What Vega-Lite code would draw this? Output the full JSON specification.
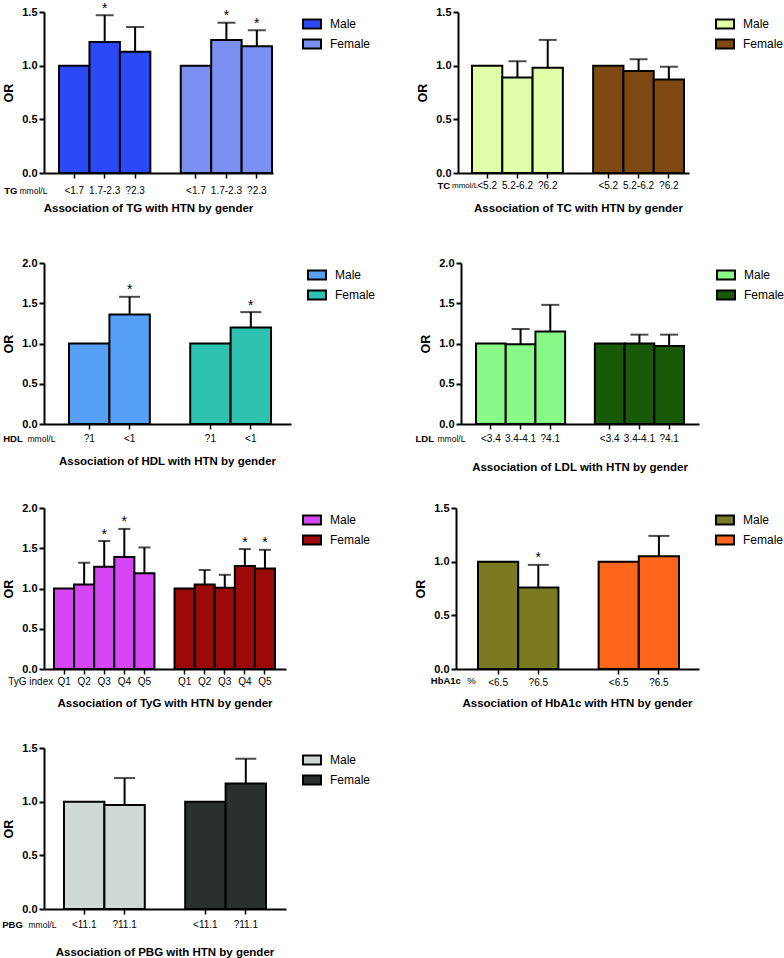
{
"$schema": "https://vega.github.io/schema/vega-lite/v6.json",
"padding": {"left": 1, "top": 1, "right": 0, "bottom": 0},
"datasets": {
 "tg": [
  {"sex":"Male","level":"<1.7","OR":1.0,"upper":null,"sig":""},
  {"sex":"Male","level":"1.7-2.3","OR":1.22,"upper":1.47,"sig":"*"},
  {"sex":"Male","level":"?2.3","OR":1.13,"upper":1.36,"sig":""},
  {"sex":"Female","level":"<1.7","OR":1.0,"upper":null,"sig":""},
  {"sex":"Female","level":"1.7-2.3","OR":1.24,"upper":1.40,"sig":"*"},
  {"sex":"Female","level":"?2.3","OR":1.18,"upper":1.33,"sig":"*"}
 ],
 "tc": [
  {"sex":"Male","level":"<5.2","OR":1.0,"upper":null,"sig":""},
  {"sex":"Male","level":"5.2-6.2","OR":0.89,"upper":1.04,"sig":""},
  {"sex":"Male","level":"?6.2","OR":0.98,"upper":1.24,"sig":""},
  {"sex":"Female","level":"<5.2","OR":1.0,"upper":null,"sig":""},
  {"sex":"Female","level":"5.2-6.2","OR":0.95,"upper":1.06,"sig":""},
  {"sex":"Female","level":"?6.2","OR":0.87,"upper":0.99,"sig":""}
 ],
 "hdl": [
  {"sex":"Male","level":"?1","OR":1.0,"upper":null,"sig":""},
  {"sex":"Male","level":"<1","OR":1.36,"upper":1.58,"sig":"*"},
  {"sex":"Female","level":"?1","OR":1.0,"upper":null,"sig":""},
  {"sex":"Female","level":"<1","OR":1.20,"upper":1.39,"sig":"*"}
 ],
 "ldl": [
  {"sex":"Male","level":"<3.4","OR":1.0,"upper":null,"sig":""},
  {"sex":"Male","level":"3.4-4.1","OR":0.99,"upper":1.18,"sig":""},
  {"sex":"Male","level":"?4.1","OR":1.15,"upper":1.48,"sig":""},
  {"sex":"Female","level":"<3.4","OR":1.0,"upper":null,"sig":""},
  {"sex":"Female","level":"3.4-4.1","OR":1.00,"upper":1.11,"sig":""},
  {"sex":"Female","level":"?4.1","OR":0.97,"upper":1.11,"sig":""}
 ],
 "tyg": [
  {"sex":"Male","level":"Q1","OR":1.0,"upper":null,"sig":""},
  {"sex":"Male","level":"Q2","OR":1.05,"upper":1.32,"sig":""},
  {"sex":"Male","level":"Q3","OR":1.27,"upper":1.59,"sig":"*"},
  {"sex":"Male","level":"Q4","OR":1.39,"upper":1.74,"sig":"*"},
  {"sex":"Male","level":"Q5","OR":1.19,"upper":1.51,"sig":""},
  {"sex":"Female","level":"Q1","OR":1.0,"upper":null,"sig":""},
  {"sex":"Female","level":"Q2","OR":1.05,"upper":1.23,"sig":""},
  {"sex":"Female","level":"Q3","OR":1.01,"upper":1.17,"sig":""},
  {"sex":"Female","level":"Q4","OR":1.28,"upper":1.49,"sig":"*"},
  {"sex":"Female","level":"Q5","OR":1.25,"upper":1.48,"sig":"*"}
 ],
 "hba1c": [
  {"sex":"Male","level":"<6.5","OR":1.0,"upper":null,"sig":""},
  {"sex":"Male","level":"?6.5","OR":0.76,"upper":0.97,"sig":"*"},
  {"sex":"Female","level":"<6.5","OR":1.0,"upper":null,"sig":""},
  {"sex":"Female","level":"?6.5","OR":1.05,"upper":1.24,"sig":""}
 ],
 "pbg": [
  {"sex":"Male","level":"<11.1","OR":1.0,"upper":null,"sig":""},
  {"sex":"Male","level":"?11.1","OR":0.97,"upper":1.22,"sig":""},
  {"sex":"Female","level":"<11.1","OR":1.0,"upper":null,"sig":""},
  {"sex":"Female","level":"?11.1","OR":1.17,"upper":1.40,"sig":""}
 ]
},
"vconcat": [
 {
  "hconcat": [
   {
    "width": 229, "height": 161,
    "data": {"name": "tg"},
    "transform": [{"calculate": "datum.sex + '|' + datum.level", "as": "key"}],
    "title": {"text": "Association of TG with HTN by gender", "offset": 8, "dx": -10},
    "encoding": {
     "x": {"field": "key", "type": "nominal",
      "scale": {"domain": ["Male|<1.7","Male|1.7-2.3","Male|?2.3","gap","Female|<1.7","Female|1.7-2.3","Female|?2.3"], "paddingInner": 0, "paddingOuter": 0.263, "align": 0.94},
      "axis": {"values": ["Male|<1.7","Male|1.7-2.3","Male|?2.3","Female|<1.7","Female|1.7-2.3","Female|?2.3"], "labelExpr": "split(datum.value, '|')[1]", "labelPadding": 7, "title": "TG", "titleX": -40.3, "titleY": 17}}
    },
    "layer": [
     {"transform": [{"filter": "datum.upper != null"}], "mark": {"type": "rule", "strokeWidth": 2, "color": "black"},
      "encoding": {"y": {"field": "OR", "type": "quantitative", "scale": {"domain": [0, 1.5], "nice": false}, "axis": null}, "y2": {"field": "upper"}}},
     {"transform": [{"filter": "datum.upper != null"}], "mark": {"type": "tick", "size": 18, "thickness": 2, "color": "black"},
      "encoding": {"y": {"field": "upper", "type": "quantitative", "scale": {"domain": [0, 1.5], "nice": false},
       "axis": {"orient": "right", "domain": false, "ticks": false, "labels": false, "grid": false, "title": "mmol/L", "titleAngle": 0, "titleX": -254, "titleY": 178, "titleAlign": "left", "titleBaseline": "middle", "titleFontWeight": "normal", "titleFontSize": 8.5, "titlePadding": 0}}}},
     {"mark": {"type": "bar", "stroke": "black", "strokeWidth": 2},
      "encoding": {"y": {"field": "OR", "type": "quantitative", "scale": {"domain": [0, 1.5], "nice": false}, "axis": {"title": "OR", "values": [0, 0.5, 1, 1.5], "format": ".1f"}},
       "color": {"field": "sex", "type": "nominal", "scale": {"domain": ["Male", "Female"], "range": ["#2B49F6", "#7A90F2"]}, "legend": {"title": null, "orient": "none", "legendX": 258, "legendY": 2}}}},
     {"transform": [{"filter": "datum.sig == '*'"}], "mark": {"type": "text", "fontSize": 14, "baseline": "alphabetic", "dy": -2.5, "color": "black"},
      "encoding": {"y": {"field": "upper", "type": "quantitative", "scale": {"domain": [0, 1.5], "nice": false}, "axis": null}, "text": {"field": "sig"}}}
    ],
    "resolve": {"axis": {"y": "independent"}}
   },
   {
    "width": 231, "height": 161,
    "data": {"name": "tc"},
    "transform": [{"calculate": "datum.sex + '|' + datum.level", "as": "key"}],
    "title": {"text": "Association of TC with HTN by gender", "offset": 13, "dx": 5},
    "encoding": {
     "x": {"field": "key", "type": "nominal",
      "scale": {"domain": ["Male|<5.2","Male|5.2-6.2","Male|?6.2","gap","Female|<5.2","Female|5.2-6.2","Female|?6.2"], "paddingInner": 0, "paddingOuter": 0.314, "align": 0.737},
      "axis": {"values": ["Male|<5.2","Male|5.2-6.2","Male|?6.2","Female|<5.2","Female|5.2-6.2","Female|?6.2"], "labelExpr": "split(datum.value, '|')[1]", "labelPadding": 2, "title": "TC", "titleX": -21, "titleY": 12}}
    },
    "layer": [
     {"transform": [{"filter": "datum.upper != null"}], "mark": {"type": "rule", "strokeWidth": 2, "color": "black"},
      "encoding": {"y": {"field": "OR", "type": "quantitative", "scale": {"domain": [0, 1.5], "nice": false}, "axis": null}, "y2": {"field": "upper"}}},
     {"transform": [{"filter": "datum.upper != null"}], "mark": {"type": "tick", "size": 18, "thickness": 2, "color": "black"},
      "encoding": {"y": {"field": "upper", "type": "quantitative", "scale": {"domain": [0, 1.5], "nice": false},
       "axis": {"orient": "right", "domain": false, "ticks": false, "labels": false, "grid": false, "title": "mmol/L", "titleAngle": 0, "titleX": -237.5, "titleY": 173, "titleAlign": "left", "titleBaseline": "middle", "titleFontWeight": "normal", "titleFontSize": 8, "titlePadding": 0}}}},
     {"mark": {"type": "bar", "stroke": "black", "strokeWidth": 2},
      "encoding": {"y": {"field": "OR", "type": "quantitative", "scale": {"domain": [0, 1.5], "nice": false}, "axis": {"title": "OR", "values": [0, 0.5, 1, 1.5], "format": ".1f"}},
       "color": {"field": "sex", "type": "nominal", "scale": {"domain": ["Male", "Female"], "range": ["#E0FDA8", "#7E4A12"]}, "legend": {"title": null, "orient": "none", "legendX": 257, "legendY": 2}}}}
    ],
    "resolve": {"axis": {"y": "independent"}}
   }
  ],
  "spacing": 185, "bounds": "flush",
  "resolve": {"scale": {"color": "independent"}, "legend": {"color": "independent"}}
 },
 {
  "vconcat": [
   {
    "hconcat": [
     {
      "width": 247, "height": 161,
      "data": {"name": "hdl"},
      "transform": [{"calculate": "datum.sex + '|' + datum.level", "as": "key"}],
      "title": {"text": "Association of HDL with HTN by gender", "offset": 13},
      "encoding": {
       "x": {"field": "key", "type": "nominal",
        "scale": {"domain": ["Male|?1","Male|<1","gap","Female|?1","Female|<1"], "paddingInner": 0, "paddingOuter": 0.557, "align": 0.556},
        "axis": {"values": ["Male|?1","Male|<1","Female|?1","Female|<1"], "labelExpr": "split(datum.value, '|')[1]", "labelPadding": 4, "title": "HDL", "titleX": -41.3, "titleY": 14}}
      },
      "layer": [
       {"transform": [{"filter": "datum.upper != null"}], "mark": {"type": "rule", "strokeWidth": 2, "color": "black"},
        "encoding": {"y": {"field": "OR", "type": "quantitative", "scale": {"domain": [0, 2], "nice": false}, "axis": null}, "y2": {"field": "upper"}}},
       {"transform": [{"filter": "datum.upper != null"}], "mark": {"type": "tick", "size": 21, "thickness": 2, "color": "black"},
        "encoding": {"y": {"field": "upper", "type": "quantitative", "scale": {"domain": [0, 2], "nice": false},
         "axis": {"orient": "right", "domain": false, "ticks": false, "labels": false, "grid": false, "title": "mmol/L", "titleAngle": 0, "titleX": -264, "titleY": 175, "titleAlign": "left", "titleBaseline": "middle", "titleFontWeight": "normal", "titleFontSize": 8.5, "titlePadding": 0}}}},
       {"mark": {"type": "bar", "stroke": "black", "strokeWidth": 2},
        "encoding": {"y": {"field": "OR", "type": "quantitative", "scale": {"domain": [0, 2], "nice": false}, "axis": {"title": "OR", "values": [0, 0.5, 1, 1.5, 2], "format": ".1f"}},
         "color": {"field": "sex", "type": "nominal", "scale": {"domain": ["Male", "Female"], "range": ["#56A0F8", "#2CC2AF"]}, "legend": {"title": null, "orient": "none", "legendX": 263, "legendY": 2}}}},
       {"transform": [{"filter": "datum.sig == '*'"}], "mark": {"type": "text", "fontSize": 14, "baseline": "alphabetic", "dy": -2.5, "color": "black"},
        "encoding": {"y": {"field": "upper", "type": "quantitative", "scale": {"domain": [0, 2], "nice": false}, "axis": null}, "text": {"field": "sig"}}}
      ],
      "resolve": {"axis": {"y": "independent"}}
     },
     {
      "width": 238, "height": 161,
      "data": {"name": "ldl"},
      "transform": [{"calculate": "datum.sex + '|' + datum.level", "as": "key"}],
      "title": {"text": "Association of LDL with HTN by gender", "offset": 19},
      "encoding": {
       "x": {"field": "key", "type": "nominal",
        "scale": {"domain": ["Male|<3.4","Male|3.4-4.1","Male|?4.1","gap","Female|<3.4","Female|3.4-4.1","Female|?4.1"], "paddingInner": 0, "paddingOuter": 0.505, "align": 0.5},
        "axis": {"values": ["Male|<3.4","Male|3.4-4.1","Male|?4.1","Female|<3.4","Female|3.4-4.1","Female|?4.1"], "labelExpr": "split(datum.value, '|')[1]", "labelPadding": 4, "title": "LDL", "titleX": -46, "titleY": 14}}
      },
      "layer": [
       {"transform": [{"filter": "datum.upper != null"}], "mark": {"type": "rule", "strokeWidth": 2, "color": "black"},
        "encoding": {"y": {"field": "OR", "type": "quantitative", "scale": {"domain": [0, 2], "nice": false}, "axis": null}, "y2": {"field": "upper"}}},
       {"transform": [{"filter": "datum.upper != null"}], "mark": {"type": "tick", "size": 18, "thickness": 2, "color": "black"},
        "encoding": {"y": {"field": "upper", "type": "quantitative", "scale": {"domain": [0, 2], "nice": false},
         "axis": {"orient": "right", "domain": false, "ticks": false, "labels": false, "grid": false, "title": "mmol/L", "titleAngle": 0, "titleX": -262, "titleY": 175, "titleAlign": "left", "titleBaseline": "middle", "titleFontWeight": "normal", "titleFontSize": 8.5, "titlePadding": 0}}}},
       {"mark": {"type": "bar", "stroke": "black", "strokeWidth": 2},
        "encoding": {"y": {"field": "OR", "type": "quantitative", "scale": {"domain": [0, 2], "nice": false}, "axis": {"title": "OR", "values": [0, 0.5, 1, 1.5, 2], "format": ".1f"}},
         "color": {"field": "sex", "type": "nominal", "scale": {"domain": ["Male", "Female"], "range": ["#88F987", "#195A09"]}, "legend": {"title": null, "orient": "none", "legendX": 255, "legendY": 2}}}}
      ],
      "resolve": {"axis": {"y": "independent"}}
     }
    ],
    "spacing": 170, "bounds": "flush",
    "resolve": {"scale": {"color": "independent"}, "legend": {"color": "independent"}}
   },
   {
    "vconcat": [
     {
      "hconcat": [
       {
        "width": 242, "height": 161,
        "data": {"name": "tyg"},
        "transform": [{"calculate": "datum.sex + '|' + datum.level", "as": "key"}],
        "title": {"text": "Association of TyG with HTN by gender", "offset": 12},
        "encoding": {
         "x": {"field": "key", "type": "nominal",
          "scale": {"domain": ["Male|Q1","Male|Q2","Male|Q3","Male|Q4","Male|Q5","gap","Female|Q1","Female|Q2","Female|Q3","Female|Q4","Female|Q5"], "paddingInner": 0, "paddingOuter": 0.523, "align": 0.476},
          "axis": {"values": ["Male|Q1","Male|Q2","Male|Q3","Male|Q4","Male|Q5","Female|Q1","Female|Q2","Female|Q3","Female|Q4","Female|Q5"], "labelExpr": "split(datum.value, '|')[1]", "labelPadding": 2, "title": "TyG index", "titleFontWeight": "normal", "titleFontSize": 10, "titleX": -36.3, "titleY": 12}}
        },
        "layer": [
         {"transform": [{"filter": "datum.upper != null"}], "mark": {"type": "rule", "strokeWidth": 2, "color": "black"},
          "encoding": {"y": {"field": "OR", "type": "quantitative", "scale": {"domain": [0, 2], "nice": false}, "axis": null}, "y2": {"field": "upper"}}},
         {"transform": [{"filter": "datum.upper != null"}], "mark": {"type": "tick", "size": 12, "thickness": 2, "color": "black"},
          "encoding": {"y": {"field": "upper", "type": "quantitative", "scale": {"domain": [0, 2], "nice": false}, "axis": null}}},
         {"mark": {"type": "bar", "stroke": "black", "strokeWidth": 2},
          "encoding": {"y": {"field": "OR", "type": "quantitative", "scale": {"domain": [0, 2], "nice": false}, "axis": {"title": "OR", "values": [0, 0.5, 1, 1.5, 2], "format": ".1f"}},
           "color": {"field": "sex", "type": "nominal", "scale": {"domain": ["Male", "Female"], "range": ["#D645F6", "#9B0909"]}, "legend": {"title": null, "orient": "none", "legendX": 258, "legendY": 2}}}},
         {"transform": [{"filter": "datum.sig == '*'"}], "mark": {"type": "text", "fontSize": 14, "baseline": "alphabetic", "dy": -2.5, "color": "black"},
          "encoding": {"y": {"field": "upper", "type": "quantitative", "scale": {"domain": [0, 2], "nice": false}, "axis": null}, "text": {"field": "sig"}}}
        ],
        "resolve": {"axis": {"y": "independent"}}
       },
       {
        "width": 243, "height": 161,
        "data": {"name": "hba1c"},
        "transform": [{"calculate": "datum.sex + '|' + datum.level", "as": "key"}],
        "title": {"text": "Association of HbA1c with HTN by gender", "offset": 11},
        "encoding": {
         "x": {"field": "key", "type": "nominal",
          "scale": {"domain": ["Male|<6.5","Male|?6.5","gap","Female|<6.5","Female|?6.5"], "paddingInner": 0, "paddingOuter": 0.522, "align": 0.524},
          "axis": {"values": ["Male|<6.5","Male|?6.5","Female|<6.5","Female|?6.5"], "labelExpr": "split(datum.value, '|')[1]", "labelPadding": 3, "title": "HbA1c", "titleX": -25.7, "titleY": 11}}
        },
        "layer": [
         {"transform": [{"filter": "datum.upper != null"}], "mark": {"type": "rule", "strokeWidth": 2, "color": "black"},
          "encoding": {"y": {"field": "OR", "type": "quantitative", "scale": {"domain": [0, 1.5], "nice": false}, "axis": null}, "y2": {"field": "upper"}}},
         {"transform": [{"filter": "datum.upper != null"}], "mark": {"type": "tick", "size": 21, "thickness": 2, "color": "black"},
          "encoding": {"y": {"field": "upper", "type": "quantitative", "scale": {"domain": [0, 1.5], "nice": false},
           "axis": {"orient": "right", "domain": false, "ticks": false, "labels": false, "grid": false, "title": "%", "titleAngle": 0, "titleX": -232.3, "titleY": 172, "titleAlign": "left", "titleBaseline": "middle", "titleFontWeight": "normal", "titleFontSize": 9.5, "titlePadding": 0}}}},
         {"mark": {"type": "bar", "stroke": "black", "strokeWidth": 2},
          "encoding": {"y": {"field": "OR", "type": "quantitative", "scale": {"domain": [0, 1.5], "nice": false}, "axis": {"title": "OR", "values": [0, 0.5, 1, 1.5], "format": ".1f"}},
           "color": {"field": "sex", "type": "nominal", "scale": {"domain": ["Male", "Female"], "range": ["#7A7A22", "#FD661B"]}, "legend": {"title": null, "orient": "none", "legendX": 259, "legendY": 2}}}},
         {"transform": [{"filter": "datum.sig == '*'"}], "mark": {"type": "text", "fontSize": 14, "baseline": "alphabetic", "dy": -2.5, "color": "black"},
          "encoding": {"y": {"field": "upper", "type": "quantitative", "scale": {"domain": [0, 1.5], "nice": false}, "axis": null}, "text": {"field": "sig"}}}
        ],
        "resolve": {"axis": {"y": "independent"}}
       }
      ],
      "spacing": 170, "bounds": "flush",
      "resolve": {"scale": {"color": "independent"}, "legend": {"color": "independent"}}
     },
     {
      "width": 242, "height": 161,
      "data": {"name": "pbg"},
      "transform": [{"calculate": "datum.sex + '|' + datum.level", "as": "key"}],
      "title": {"text": "Association of PBG with HTN by gender", "offset": 18},
      "encoding": {
       "x": {"field": "key", "type": "nominal",
        "scale": {"domain": ["Male|<11.1","Male|?11.1","gap","Female|<11.1","Female|?11.1"], "paddingInner": 0, "paddingOuter": 0.495, "align": 0.5},
        "axis": {"values": ["Male|<11.1","Male|?11.1","Female|<11.1","Female|?11.1"], "labelExpr": "split(datum.value, '|')[1]", "labelPadding": 5, "title": "PBG", "titleX": -42.3, "titleY": 15}}
      },
      "layer": [
       {"transform": [{"filter": "datum.upper != null"}], "mark": {"type": "rule", "strokeWidth": 2, "color": "black"},
        "encoding": {"y": {"field": "OR", "type": "quantitative", "scale": {"domain": [0, 1.5], "nice": false}, "axis": null}, "y2": {"field": "upper"}}},
       {"transform": [{"filter": "datum.upper != null"}], "mark": {"type": "tick", "size": 21, "thickness": 2, "color": "black"},
        "encoding": {"y": {"field": "upper", "type": "quantitative", "scale": {"domain": [0, 1.5], "nice": false},
         "axis": {"orient": "right", "domain": false, "ticks": false, "labels": false, "grid": false, "title": "mmol/L", "titleAngle": 0, "titleX": -258, "titleY": 176, "titleAlign": "left", "titleBaseline": "middle", "titleFontWeight": "normal", "titleFontSize": 8.5, "titlePadding": 0}}}},
       {"mark": {"type": "bar", "stroke": "black", "strokeWidth": 2},
        "encoding": {"y": {"field": "OR", "type": "quantitative", "scale": {"domain": [0, 1.5], "nice": false}, "axis": {"title": "OR", "values": [0, 0.5, 1, 1.5], "format": ".1f"}},
         "color": {"field": "sex", "type": "nominal", "scale": {"domain": ["Male", "Female"], "range": ["#D0D9D6", "#2A2F30"]}, "legend": {"title": null, "orient": "none", "legendX": 258, "legendY": 2}}}}
      ],
      "resolve": {"axis": {"y": "independent"}}
     }
    ],
    "spacing": 240, "bounds": "flush",
    "resolve": {"scale": {"color": "independent"}, "legend": {"color": "independent"}}
   }
  ],
  "spacing": 245, "bounds": "flush",
  "resolve": {"scale": {"color": "independent"}, "legend": {"color": "independent"}}
 }
],
"spacing": 251, "bounds": "flush",
"resolve": {"scale": {"color": "independent"}, "legend": {"color": "independent"}},
"config": {
 "font": "Liberation Sans",
 "view": {"stroke": null},
 "axisY": {"domainColor": "black", "domainWidth": 2, "tickColor": "black", "tickWidth": 2, "tickSize": 5, "labelFontWeight": "bold", "labelFontSize": 11, "labelColor": "black", "labelPadding": 2, "titleFontSize": 12.5, "titleFontWeight": "bold", "titleColor": "black", "titlePadding": 6, "grid": false},
 "axisX": {"domainColor": "black", "domainWidth": 2, "tickColor": "black", "tickWidth": 1.5, "tickSize": 5, "labelFontSize": 10, "labelColor": "black", "labelAngle": 0, "labelOverlap": false, "titleFontSize": 9.5, "titleFontWeight": "bold", "titleColor": "black", "titleAlign": "left", "titleBaseline": "middle", "grid": false},
 "legend": {"symbolType": "M-1,-0.5H1V0.5H-1Z", "symbolSize": 324, "symbolStrokeColor": "black", "symbolStrokeWidth": 2, "labelFontSize": 12, "labelColor": "black", "labelOffset": 8, "rowPadding": 1, "padding": 0},
 "title": {"fontSize": 11.5, "fontWeight": "bold", "color": "black", "orient": "bottom", "frame": "group", "anchor": "middle"}
}
}
